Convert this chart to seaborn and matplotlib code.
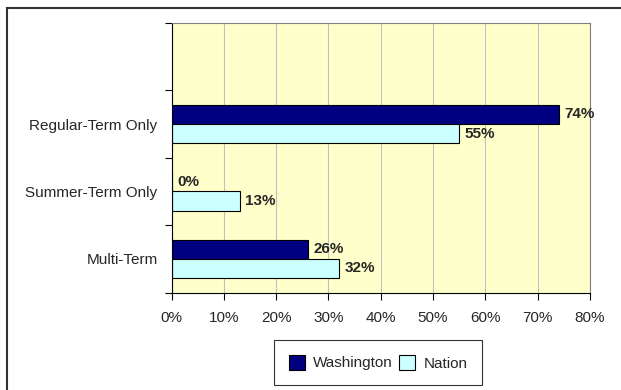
import numpy as np
import pandas as pd
import matplotlib
matplotlib.use('Agg')
import matplotlib.pyplot as plt
import matplotlib.patches as mpatches
import seaborn as sns

# chart data
categories = ['Regular-Term Only', 'Summer-Term Only', 'Multi-Term']
washington = [74, 0, 26]
nation = [55, 13, 32]
series_names = ['Washington', 'Nation']
x_ticks = [0, 10, 20, 30, 40, 50, 60, 70, 80]

df = pd.DataFrame({
    'Category': categories * 2,
    'Group': [series_names[0]] * 3 + [series_names[1]] * 3,
    'Value': washington + nation,
})

sns.set_style('white')
plt.rcParams['font.family'] = ['Liberation Sans', 'DejaVu Sans']
fs = 11

fig = plt.figure(figsize=(6.21, 3.90), dpi=100)
ax = fig.add_axes([171.5 / 621, (390 - 292.5) / 390, (590 - 171.5) / 621, (292.5 - 23) / 390])
ax.set_facecolor('#FFFFCC')

colors = ['#000080', '#CCFFFF']
sns.barplot(data=df, y='Category', x='Value', hue='Group', order=categories,
            hue_order=series_names, palette=colors, orient='h', width=0.57,
            edgecolor='black', linewidth=0.8, saturation=1, legend=False, ax=ax)

# value labels
for cont in ax.containers:
    ax.bar_label(cont, labels=[f'{int(round(v))}%' for v in cont.datavalues],
                 padding=4, fontsize=fs, fontweight='bold')

ax.set_xlim(0, 80)
ax.set_ylim(2.5, -1.5)
ax.set_xticks(x_ticks)
ax.set_xticklabels([f'{t}%' for t in x_ticks], fontsize=fs)
ax.xaxis.grid(True, color='#C0C0C0', linewidth=0.8)
ax.set_axisbelow(True)

# category labels at slot centres, tick marks at slot boundaries
ax.set_yticks(range(len(categories)))
ax.set_yticklabels(categories, fontsize=fs)
ax.tick_params(axis='y', which='major', length=0, pad=10)
ax.set_yticks(np.arange(-1.5, 3.0, 1.0), minor=True)
ax.tick_params(axis='y', which='minor', length=5, color='black', width=0.8, left=True)
ax.tick_params(axis='x', length=5, color='black', width=0.8, bottom=True, pad=8)
ax.set_xlabel('')
ax.set_ylabel('')

for side in ['top', 'right']:
    ax.spines[side].set_color('#808080')
    ax.spines[side].set_linewidth(0.8)
for side in ['left', 'bottom']:
    ax.spines[side].set_color('black')
    ax.spines[side].set_linewidth(0.8)

handles = [mpatches.Patch(facecolor=c, edgecolor='black', linewidth=0.8) for c in colors]
leg = fig.legend(handles, series_names, loc='upper left',
                 bbox_to_anchor=(274 / 621, (390 - 340) / 390), borderaxespad=0,
                 ncol=2, fontsize=fs, frameon=True, fancybox=False,
                 edgecolor='black', handlelength=1.05, handleheight=1.2, handletextpad=0.55,
                 columnspacing=0.4, borderpad=0.95)
leg.get_frame().set_linewidth(0.8)

# outer chart border
fig.patches.append(mpatches.Rectangle((6.5 / 621, -0.05), 1.1, 1 - 7.5 / 390 + 0.05,
                                      transform=fig.transFigure, fill=False,
                                      edgecolor='#333333', linewidth=1.5))

fig.savefig('out.png', dpi=100)
